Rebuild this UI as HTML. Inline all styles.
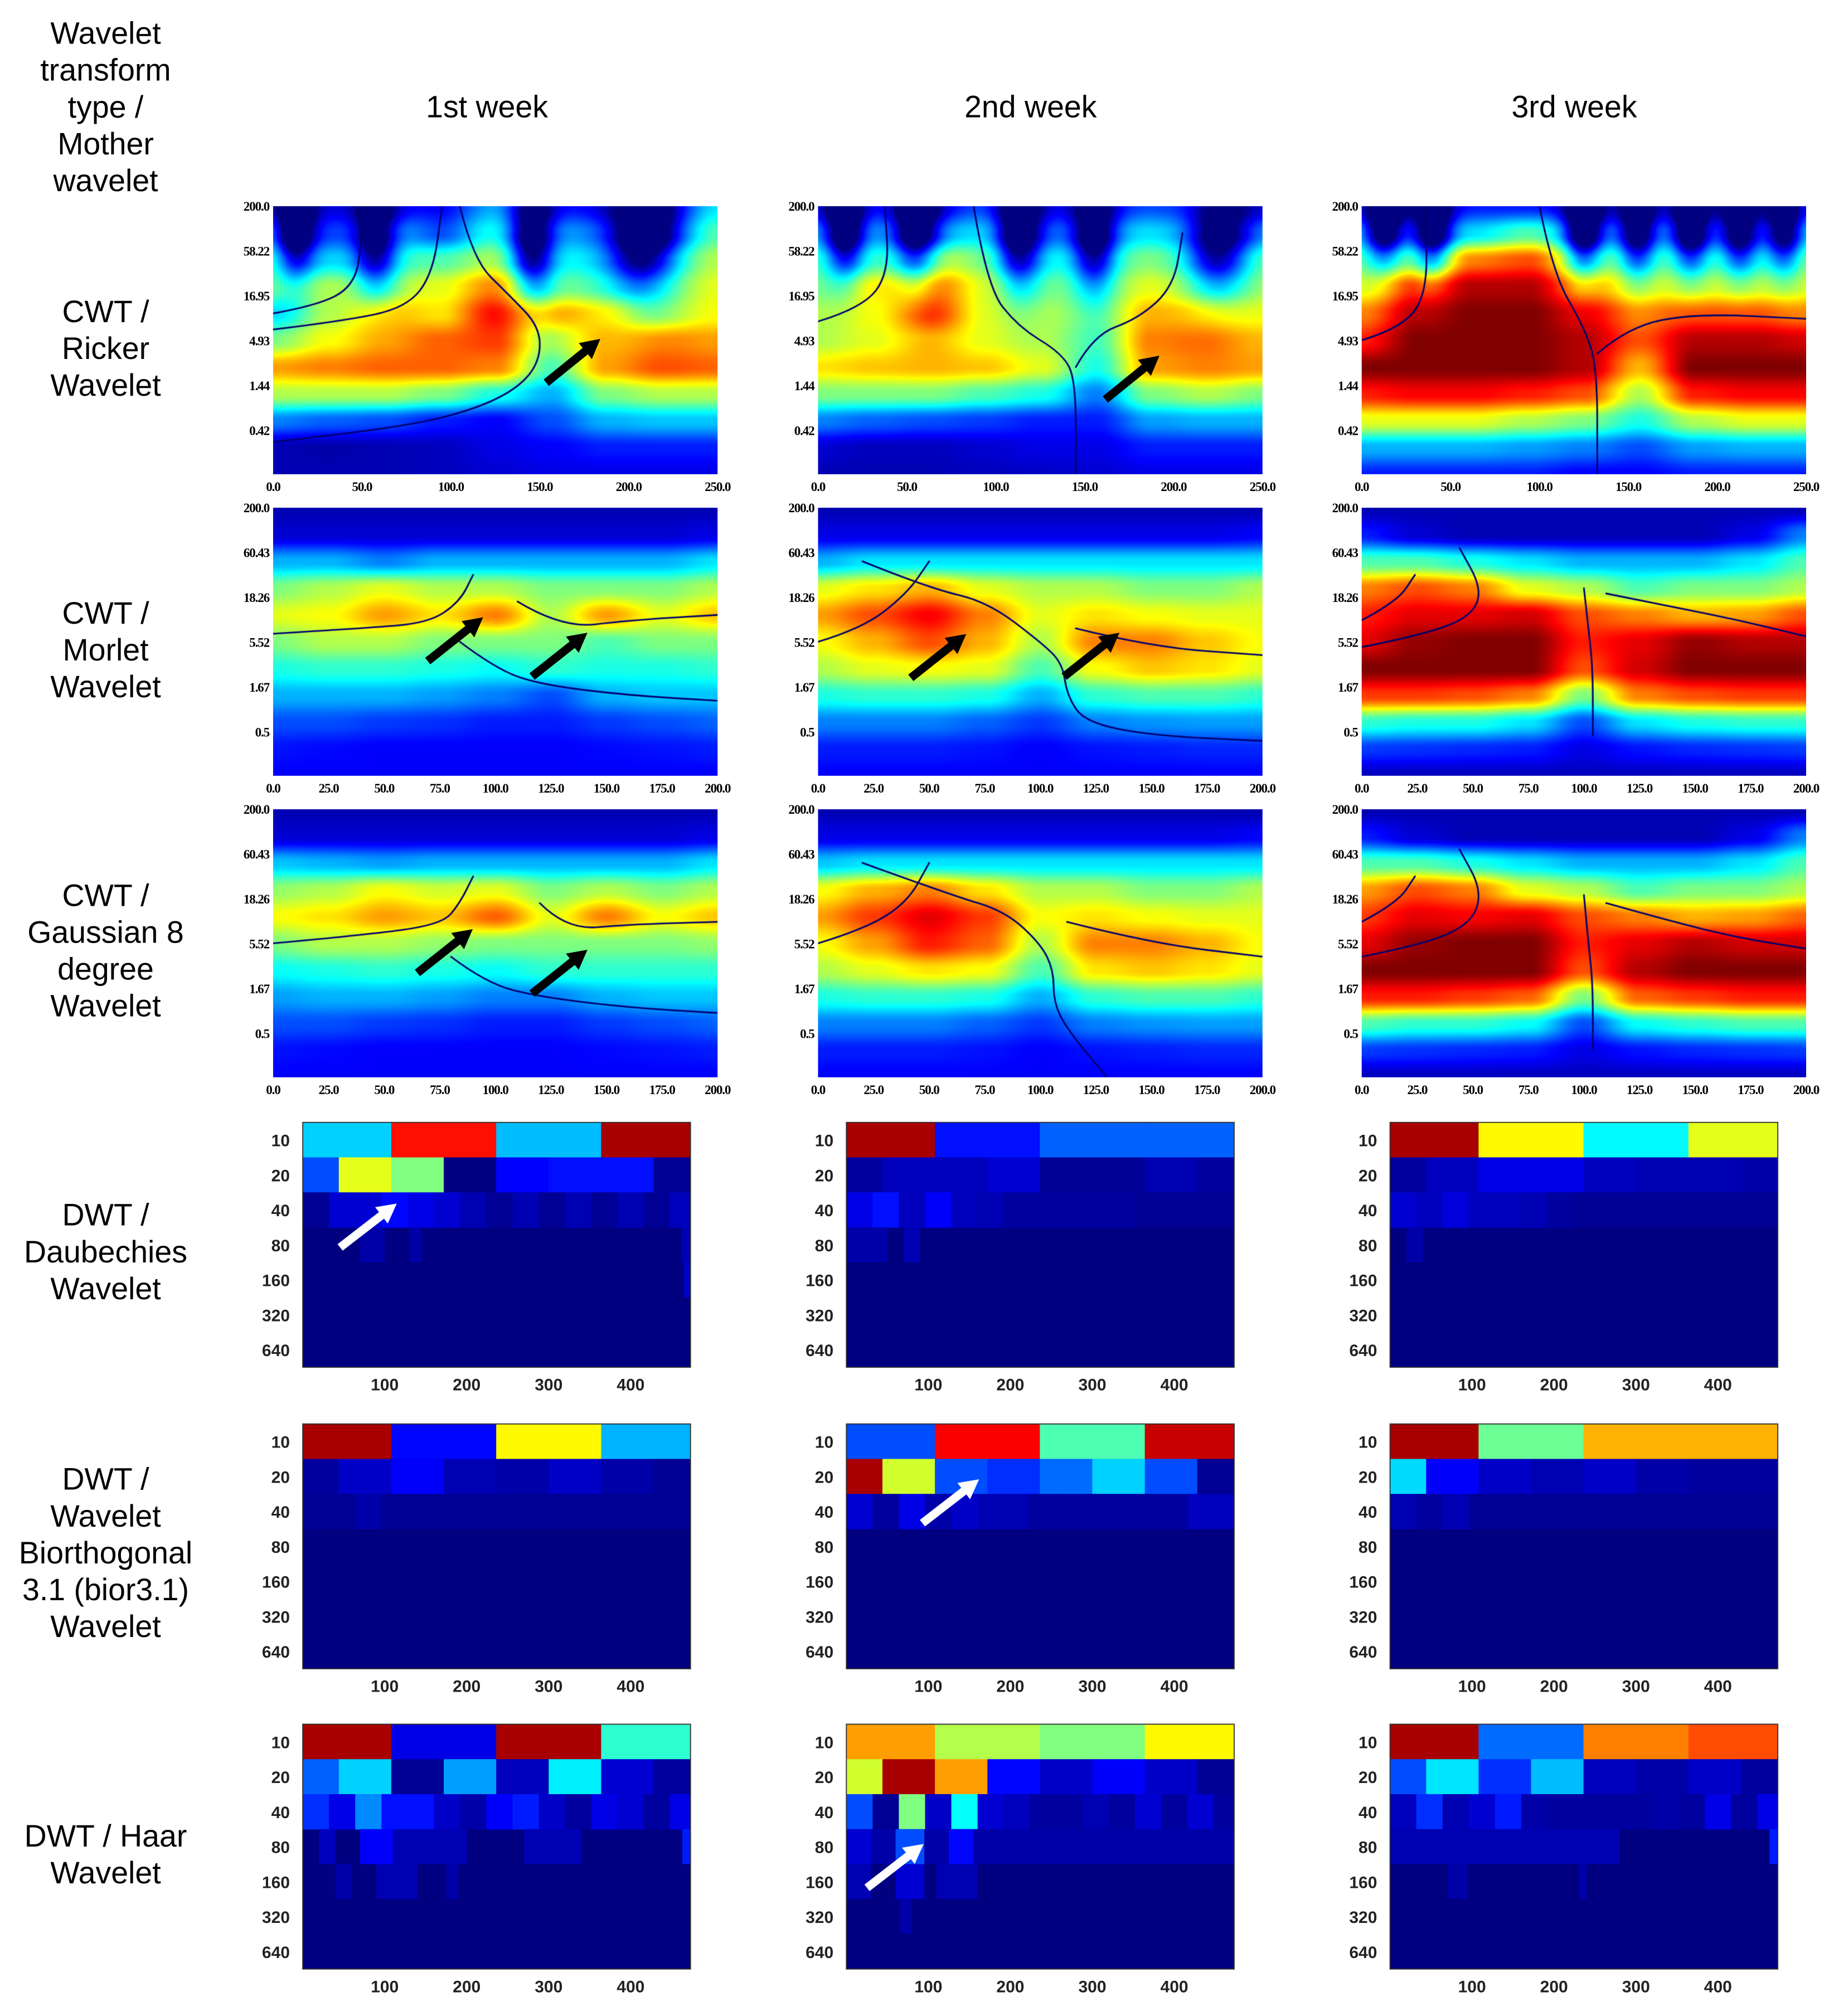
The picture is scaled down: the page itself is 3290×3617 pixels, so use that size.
<!DOCTYPE html>
<html><head><meta charset="utf-8">
<style>
html,body{margin:0;padding:0;background:#fff;}
body{width:3290px;height:3617px;overflow:hidden;position:relative;}
#root{position:absolute;left:0;top:0;width:1420px;height:1561px;transform:scale(2.311,2.312);transform-origin:0 0;}
canvas{position:absolute;}
svg{position:absolute;left:0;top:0;}
</style></head>
<body>
<div id="root">
<svg id="svg" width="1420" height="1561" viewBox="0 0 1420 1561"></svg>
</div>
<script>
// ---------- DWT data (values in jet colormap 0..1) ----------
const dwtXTicks=[100,200,300,400];
const dwtYTicks=[10,20,40,80,160,320,640];
const dwtXMax=473;
const rowSteps=[128,64,32];
const rowOffsets=[-20,-20,0];
const daubW1=[[0.33,0.86,0.31,0.96],[0.2,0.6,0.5,0.0,0.125,0.14,0.14,0.02],[0.02,0.08,0.08,0.13,0.1,0.08,0.05,0.02,0.05,0.02,0.05,0.02,0.05,0.02,0.06,0.06]];
const daubW1Sparse=[[3,70,100,0.04],[3,130,145,0.04],[3,462,473,0.05],[4,465,473,0.07]];
const daubW2=[[0.96,0.14,0.22,0.22],[0.03,0.06,0.06,0.08,0.02,0.02,0.05,0.03],[0.1,0.14,0.06,0.12,0.06,0.05,0.03,0.03,0.03,0.03,0.03,0.02,0.02,0.02,0.02,0.02]];
const daubW2Sparse=[[3,0,50,0.04],[3,70,90,0.05]];
const daubW3=[[0.96,0.63,0.37,0.6],[0.03,0.06,0.1,0.1,0.06,0.05,0.05,0.04],[0.08,0.06,0.09,0.06,0.06,0.05,0.03,0.02,0.02,0.02,0.02,0.02,0.02,0.02,0.02,0.02]];
const daubW3Sparse=[[3,20,40,0.04]];
const biorW1=[[0.96,0.13,0.63,0.3],[0.03,0.07,0.12,0.05,0.04,0.07,0.04,0.02],[0.02,0.02,0.04,0.02,0.02,0.02,0.02,0.02,0.02,0.02,0.02,0.02,0.02,0.02,0.02,0.02]];
const biorW1Sparse=[];
const biorW2=[[0.2,0.88,0.45,0.93],[0.96,0.58,0.2,0.17,0.23,0.33,0.2,0.02],[0.08,0.03,0.1,0.04,0.07,0.05,0.05,0.03,0.03,0.03,0.03,0.03,0.03,0.06,0.06,0.06]];
const biorW2Sparse=[];
const biorW3=[[0.96,0.48,0.7,0.7],[0.34,0.12,0.07,0.05,0.07,0.04,0.03,0.03],[0.05,0.03,0.05,0.02,0.02,0.02,0.02,0.02,0.02,0.02,0.02,0.02,0.02,0.02,0.02,0.02]];
const biorW3Sparse=[];
const haarW1=[[0.96,0.1,0.96,0.42],[0.22,0.33,0.02,0.28,0.06,0.36,0.08,0.03],[0.17,0.1,0.26,0.14,0.14,0.07,0.04,0.12,0.15,0.07,0.03,0.1,0.08,0.03,0.1,0.1]];
const haarW1Sparse=[[3,20,40,0.06],[3,70,110,0.12],[3,110,200,0.05],[3,270,340,0.05],[3,463,473,0.15],[4,40,60,0.04],[4,90,140,0.05],[4,175,190,0.04]];
const haarW2=[[0.72,0.55,0.5,0.63],[0.58,0.96,0.72,0.13,0.07,0.12,0.07,0.02],[0.2,0.02,0.5,0.07,0.38,0.08,0.06,0.03,0.03,0.05,0.03,0.08,0.03,0.08,0.03,0.06]];
const haarW2Sparse=[[3,0,473,0.04],[3,0,30,0.08],[3,60,95,0.2],[3,125,155,0.13],[4,0,30,0.05],[4,60,95,0.08],[4,110,160,0.05],[5,65,80,0.04]];
const haarW3=[[0.96,0.23,0.75,0.8],[0.2,0.35,0.17,0.31,0.06,0.04,0.07,0.03],[0.06,0.17,0.05,0.08,0.15,0.04,0.03,0.03,0.03,0.03,0.04,0.03,0.1,0.03,0.1,0.1]];
const haarW3Sparse=[[3,0,280,0.05],[3,463,473,0.15],[4,70,95,0.04],[4,230,240,0.04]];

// ---------- CWT data: coarse magnitude grids (11 rows top->bottom, 9 cols left->right) ----------
const rickerYTicks=["200.0","58.22","16.95","4.93","1.44","0.42"];
const morletYTicks=["200.0","60.43","18.26","5.52","1.67","0.5"];
const rickerXTicks=["0.0","50.0","100.0","150.0","200.0","250.0"];
const morletXTicks=["0.0","25.0","50.0","75.0","100.0","125.0","150.0","175.0","200.0"];
const rickerW1Grid=[
[0.12,0.1,0.15,0.12,0.3,0.15,0.12,0.1,0.35],
[0.3,0.2,0.35,0.2,0.4,0.3,0.25,0.2,0.45],
[0.45,0.35,0.45,0.45,0.55,0.4,0.35,0.4,0.55],
[0.5,0.55,0.55,0.6,0.75,0.5,0.45,0.5,0.6],
[0.35,0.55,0.7,0.65,0.87,0.72,0.65,0.55,0.62],
[0.5,0.62,0.72,0.78,0.82,0.55,0.7,0.75,0.72],
[0.72,0.75,0.78,0.78,0.75,0.45,0.72,0.8,0.78],
[0.55,0.55,0.55,0.5,0.4,0.3,0.5,0.55,0.55],
[0.25,0.22,0.2,0.15,0.12,0.2,0.3,0.32,0.32],
[0.05,0.04,0.05,0.06,0.1,0.12,0.15,0.15,0.15],
[0.05,0.05,0.05,0.06,0.08,0.1,0.1,0.1,0.1]];
const rickerW1Holes=[[0.05,0.1,0.03,0.12,-0.45],[0.23,0.14,0.035,0.13,-0.45],[0.58,0.15,0.035,0.14,-0.45],[0.83,0.14,0.05,0.14,-0.45]];
const rickerW1Lines=[[[0,0.4],[0.1,0.37],[0.18,0.3],[0.2,0.15],[0.19,0]],[[0,0.46],[0.15,0.43],[0.3,0.38],[0.36,0.25],[0.38,0]],[[0.42,0],[0.45,0.2],[0.53,0.33],[0.6,0.45],[0.6,0.58],[0.55,0.68],[0.45,0.76],[0.3,0.82],[0,0.88]]];
const rickerW2Grid=[
[0.12,0.15,0.1,0.2,0.12,0.15,0.2,0.25,0.12],
[0.3,0.3,0.3,0.35,0.25,0.3,0.35,0.35,0.3],
[0.45,0.45,0.6,0.5,0.4,0.45,0.5,0.45,0.5],
[0.5,0.65,0.8,0.6,0.5,0.5,0.6,0.55,0.55],
[0.55,0.62,0.85,0.6,0.55,0.5,0.7,0.7,0.62],
[0.55,0.6,0.7,0.6,0.55,0.45,0.75,0.78,0.7],
[0.65,0.68,0.7,0.68,0.6,0.4,0.72,0.75,0.72],
[0.5,0.5,0.5,0.45,0.4,0.25,0.5,0.55,0.5],
[0.25,0.22,0.2,0.18,0.15,0.15,0.28,0.3,0.3],
[0.08,0.06,0.06,0.08,0.1,0.1,0.15,0.15,0.15],
[0.05,0.05,0.05,0.06,0.07,0.08,0.1,0.1,0.1]];
const rickerW2Holes=[[0.06,0.1,0.03,0.12,-0.45],[0.22,0.12,0.035,0.13,-0.45],[0.45,0.12,0.035,0.14,-0.45],[0.62,0.14,0.035,0.13,-0.45],[0.9,0.14,0.05,0.14,-0.45]];
const rickerW2Lines=[[[0,0.43],[0.1,0.38],[0.16,0.25],[0.15,0]],[[0.35,0],[0.38,0.3],[0.45,0.45],[0.55,0.55],[0.58,0.65],[0.58,1]],[[0.58,0.6],[0.62,0.48],[0.72,0.42],[0.8,0.3],[0.82,0.1]]];
const rickerW3Grid=[
[0.15,0.1,0.15,0.15,0.1,0.15,0.12,0.15,0.2],
[0.35,0.3,0.35,0.45,0.3,0.35,0.3,0.35,0.4],
[0.5,0.55,0.75,0.8,0.55,0.5,0.5,0.5,0.55],
[0.6,0.85,0.95,0.95,0.75,0.6,0.6,0.6,0.6],
[0.75,0.95,1,1,0.9,0.75,0.8,0.8,0.75],
[0.85,1,1,1,0.95,0.8,0.95,0.95,0.92],
[1,1,1,1,0.95,0.7,1,1,1],
[0.85,0.88,0.88,0.85,0.8,0.55,0.85,0.88,0.88],
[0.6,0.6,0.6,0.55,0.5,0.4,0.55,0.6,0.6],
[0.3,0.3,0.3,0.28,0.25,0.2,0.28,0.3,0.3],
[0.15,0.15,0.15,0.15,0.12,0.12,0.15,0.15,0.15]];
const rickerW3Holes=[[0.05,0.08,0.03,0.1,-0.45],[0.16,0.1,0.03,0.11,-0.45],[0.5,0.1,0.03,0.11,-0.45],[0.62,0.1,0.03,0.11,-0.45],[0.74,0.1,0.03,0.11,-0.45],[0.85,0.1,0.03,0.11,-0.45],[0.95,0.1,0.03,0.11,-0.45]];
const rickerW3Lines=[[[0,0.5],[0.1,0.45],[0.15,0.3],[0.14,0]],[[0.4,0],[0.43,0.25],[0.5,0.45],[0.53,0.6],[0.53,1]],[[0.53,0.55],[0.6,0.45],[0.75,0.4],[1,0.42]]];
const morletW1Grid=[
[0.05,0.05,0.05,0.05,0.05,0.05,0.05,0.05,0.05],
[0.08,0.08,0.08,0.08,0.08,0.08,0.08,0.08,0.1],
[0.3,0.3,0.25,0.3,0.3,0.3,0.3,0.3,0.35],
[0.5,0.55,0.6,0.55,0.55,0.5,0.5,0.5,0.55],
[0.6,0.62,0.72,0.65,0.75,0.55,0.72,0.6,0.68],
[0.5,0.55,0.55,0.5,0.5,0.5,0.45,0.5,0.5],
[0.4,0.42,0.42,0.4,0.38,0.42,0.4,0.4,0.42],
[0.3,0.3,0.3,0.28,0.25,0.2,0.3,0.32,0.32],
[0.2,0.2,0.18,0.17,0.15,0.15,0.18,0.2,0.22],
[0.14,0.13,0.12,0.12,0.12,0.12,0.13,0.14,0.15],
[0.12,0.12,0.12,0.12,0.12,0.12,0.12,0.12,0.12]];
const morletW1Holes=[];
const morletW1Lines=[[[0,0.47],[0.2,0.45],[0.35,0.43],[0.42,0.35],[0.45,0.25]],[[0.42,0.5],[0.5,0.6],[0.6,0.66],[0.8,0.7],[1,0.72]],[[0.55,0.35],[0.65,0.45],[0.8,0.42],[1,0.4]]];
const morletW2Grid=[
[0.05,0.05,0.05,0.05,0.05,0.05,0.05,0.05,0.05],
[0.1,0.1,0.1,0.1,0.1,0.1,0.1,0.1,0.12],
[0.3,0.35,0.35,0.35,0.35,0.35,0.35,0.35,0.35],
[0.6,0.65,0.7,0.6,0.55,0.55,0.5,0.5,0.55],
[0.72,0.8,0.88,0.75,0.6,0.65,0.62,0.6,0.6],
[0.62,0.7,0.8,0.7,0.55,0.75,0.75,0.68,0.62],
[0.55,0.6,0.62,0.6,0.45,0.62,0.68,0.65,0.6],
[0.4,0.42,0.42,0.4,0.3,0.42,0.45,0.45,0.42],
[0.25,0.25,0.25,0.22,0.18,0.25,0.27,0.28,0.28],
[0.15,0.15,0.15,0.14,0.12,0.14,0.15,0.16,0.16],
[0.12,0.12,0.12,0.12,0.12,0.12,0.12,0.12,0.12]];
const morletW2Holes=[];
const morletW2Lines=[[[0.1,0.2],[0.25,0.3],[0.38,0.35],[0.5,0.5],[0.55,0.58],[0.56,0.7],[0.6,0.8],[0.75,0.85],[1,0.87]],[[0,0.5],[0.1,0.45],[0.2,0.32],[0.25,0.2]],[[0.58,0.45],[0.75,0.52],[1,0.55]]];
const morletW3Grid=[
[0.05,0.05,0.05,0.05,0.05,0.05,0.05,0.05,0.05],
[0.15,0.08,0.05,0.05,0.05,0.05,0.05,0.1,0.25],
[0.45,0.45,0.4,0.35,0.3,0.3,0.3,0.35,0.45],
[0.75,0.8,0.75,0.6,0.55,0.45,0.5,0.5,0.55],
[0.85,0.9,0.9,0.92,0.8,0.75,0.7,0.72,0.8],
[0.9,0.98,1,1,0.85,0.9,0.98,0.95,0.95],
[1,1,1,1,0.8,0.92,1,1,1],
[0.82,0.82,0.8,0.75,0.5,0.75,0.8,0.82,0.82],
[0.42,0.4,0.4,0.35,0.2,0.35,0.4,0.42,0.42],
[0.18,0.17,0.16,0.15,0.1,0.14,0.16,0.17,0.18],
[0.06,0.06,0.06,0.06,0.06,0.06,0.06,0.06,0.06]];
const morletW3Holes=[];
const morletW3Lines=[[[0.5,0.3],[0.51,0.45],[0.52,0.6],[0.52,0.85]],[[0,0.52],[0.15,0.47],[0.25,0.4],[0.27,0.3],[0.22,0.15]],[[0.55,0.32],[0.7,0.37],[0.85,0.42],[1,0.48]],[[0,0.42],[0.08,0.35],[0.12,0.25]]];
const gaussW1Grid=[
[0.05,0.05,0.05,0.05,0.05,0.05,0.05,0.05,0.05],
[0.08,0.08,0.08,0.08,0.08,0.08,0.08,0.08,0.1],
[0.32,0.3,0.28,0.3,0.3,0.3,0.3,0.3,0.35],
[0.52,0.55,0.62,0.58,0.6,0.5,0.55,0.5,0.55],
[0.62,0.65,0.72,0.68,0.78,0.6,0.75,0.62,0.68],
[0.5,0.55,0.55,0.52,0.5,0.5,0.5,0.5,0.52],
[0.38,0.4,0.42,0.4,0.38,0.42,0.42,0.42,0.42],
[0.28,0.3,0.3,0.28,0.25,0.25,0.3,0.32,0.32],
[0.2,0.2,0.18,0.17,0.15,0.15,0.18,0.2,0.22],
[0.14,0.13,0.12,0.12,0.12,0.12,0.13,0.14,0.15],
[0.12,0.12,0.12,0.12,0.12,0.12,0.12,0.12,0.12]];
const gaussW1Holes=[];
const gaussW1Lines=[[[0,0.5],[0.2,0.47],[0.38,0.43],[0.42,0.35],[0.45,0.25]],[[0.4,0.55],[0.48,0.65],[0.6,0.7],[0.8,0.74],[1,0.76]],[[0.6,0.35],[0.66,0.45],[0.8,0.43],[1,0.42]]];
const gaussW2Grid=[
[0.05,0.05,0.05,0.05,0.05,0.05,0.05,0.05,0.05],
[0.1,0.1,0.1,0.1,0.1,0.1,0.1,0.1,0.12],
[0.32,0.35,0.35,0.35,0.35,0.35,0.35,0.35,0.35],
[0.62,0.7,0.75,0.65,0.55,0.55,0.5,0.5,0.55],
[0.72,0.82,0.9,0.82,0.62,0.65,0.62,0.6,0.6],
[0.62,0.72,0.85,0.78,0.55,0.75,0.75,0.7,0.62],
[0.55,0.6,0.65,0.62,0.45,0.65,0.68,0.65,0.6],
[0.4,0.42,0.42,0.4,0.3,0.42,0.45,0.45,0.42],
[0.25,0.25,0.25,0.22,0.18,0.25,0.27,0.28,0.28],
[0.15,0.15,0.15,0.14,0.12,0.14,0.15,0.16,0.16],
[0.12,0.12,0.12,0.12,0.12,0.12,0.12,0.12,0.12]];
const gaussW2Holes=[];
const gaussW2Lines=[[[0.1,0.2],[0.3,0.32],[0.42,0.38],[0.5,0.5],[0.53,0.6],[0.53,0.72],[0.56,0.82],[0.65,1]],[[0,0.5],[0.1,0.45],[0.2,0.35],[0.25,0.2]],[[0.56,0.42],[0.75,0.5],[1,0.55]]];
const gaussW3Grid=[
[0.05,0.05,0.05,0.05,0.05,0.05,0.05,0.05,0.05],
[0.15,0.08,0.05,0.05,0.05,0.05,0.05,0.1,0.25],
[0.45,0.45,0.4,0.35,0.3,0.3,0.3,0.35,0.45],
[0.72,0.8,0.75,0.6,0.55,0.45,0.5,0.5,0.55],
[0.82,0.9,0.88,0.9,0.8,0.75,0.7,0.72,0.78],
[0.9,0.98,1,1,0.85,0.9,0.95,0.92,0.92],
[1,1,1,1,0.8,0.95,1,1,1],
[0.85,0.85,0.82,0.78,0.5,0.78,0.82,0.85,0.85],
[0.45,0.42,0.42,0.38,0.2,0.38,0.42,0.45,0.45],
[0.18,0.17,0.16,0.15,0.1,0.14,0.16,0.17,0.18],
[0.06,0.06,0.06,0.06,0.06,0.06,0.06,0.06,0.06]];
const gaussW3Holes=[];
const gaussW3Lines=[[[0.5,0.32],[0.51,0.5],[0.52,0.65],[0.52,0.9]],[[0,0.55],[0.15,0.5],[0.25,0.42],[0.27,0.3],[0.22,0.15]],[[0.55,0.35],[0.7,0.42],[0.85,0.48],[1,0.52]],[[0,0.42],[0.08,0.35],[0.12,0.25]]];

// ---------- helpers ----------
const NS="http://www.w3.org/2000/svg";
const svg=document.getElementById('svg');
const root=document.getElementById('root');
function jet(v){v=Math.max(0,Math.min(1,v));
  const c=x=>Math.max(0,Math.min(1,x));
  const r=c(1.5-Math.abs(4*v-3)),g=c(1.5-Math.abs(4*v-2)),b=c(1.5-Math.abs(4*v-1));
  return [Math.round(r*255),Math.round(g*255),Math.round(b*255)];}
function jetStr(v){const c=jet(v);return 'rgb('+c[0]+','+c[1]+','+c[2]+')';}
function txt(x,y,s,size,anchor,opts){const t=document.createElementNS(NS,'text');
  t.setAttribute('x',x);t.setAttribute('y',y);t.setAttribute('font-size',size);
  t.setAttribute('text-anchor',anchor||'middle');
  t.setAttribute('font-family',(opts&&opts.ff)||'"Liberation Sans", sans-serif');
  if(opts&&opts.fw)t.setAttribute('font-weight',opts.fw);
  if(opts&&opts.fill)t.setAttribute('fill',opts.fill);
  if(opts&&opts.ls)t.setAttribute('letter-spacing',opts.ls);
  t.textContent=s;svg.appendChild(t);return t;}
function rect(x,y,w,h,fill,g){const r=document.createElementNS(NS,'rect');
  r.setAttribute('x',x);r.setAttribute('y',y);r.setAttribute('width',w);r.setAttribute('height',h);r.setAttribute('fill',fill);
  (g||svg).appendChild(r);return r;}
function arrow(x1,y1,x2,y2,color,name){const g=document.createElementNS(NS,'g');
  
  
  const dx=x2-x1,dy=y2-y1,L=Math.hypot(dx,dy),ux=dx/L,uy=dy/L,px=-uy,py=ux;
  const hl=15,hw=8,sw=3.2;
  const bx=x2-ux*hl,by=y2-uy*hl;
  const p=document.createElementNS(NS,'polygon');
  const pts=[[x1+px*sw,y1+py*sw],[bx+px*sw,by+py*sw],[bx+px*hw,by+py*hw],[x2,y2],[bx-px*hw,by-py*hw],[bx-px*sw,by-py*sw],[x1-px*sw,y1-py*sw]];
  p.setAttribute('points',pts.map(q=>q[0].toFixed(1)+','+q[1].toFixed(1)).join(' '));
  p.setAttribute('fill',color);g.appendChild(p);svg.appendChild(g);}

// ---------- header & row labels ----------
const hdr=["Wavelet","transform","type /","Mother","wavelet"];
hdr.forEach((s,i)=>{const t=txt(82,34+i*28.6,s,24);});
const colHeads=[["1st week",378],["2nd week",800],["3rd week",1222]];
colHeads.forEach(c=>{const t=txt(c[1],91,c[0],24);});
const rowLabels=[[["CWT /","Ricker","Wavelet"],250],[["CWT /","Morlet","Wavelet"],484],[["CWT /","Gaussian 8","degree","Wavelet"],703],[["DWT /","Daubechies","Wavelet"],951],[["DWT /","Wavelet","Biorthogonal","3.1 (bior3.1)","Wavelet"],1156],[["DWT / Haar","Wavelet"],1433]];
rowLabels.forEach(r=>r[0].forEach((s,i)=>{const t=txt(82,r[1]+i*28.6,s,24);}));

// ---------- CWT panels ----------
const cwtCols=[212,635,1057], cwtRows=[160,394,628], CW=345, CH=208;
const cwtSets=[[[rickerW1Grid,rickerW1Holes,rickerW1Lines],[rickerW2Grid,rickerW2Holes,rickerW2Lines],[rickerW3Grid,rickerW3Holes,rickerW3Lines]],
  [[morletW1Grid,morletW1Holes,morletW1Lines],[morletW2Grid,morletW2Holes,morletW2Lines],[morletW3Grid,morletW3Holes,morletW3Lines]],
  [[gaussW1Grid,gaussW1Holes,gaussW1Lines],[gaussW2Grid,gaussW2Holes,gaussW2Lines],[gaussW3Grid,gaussW3Holes,gaussW3Lines]]];
function sm(t){return t*t*(3-2*t);}
function sample(grid,x,y){const R=grid.length-1,C=grid[0].length-1;
  const fy=y*R,fx=x*C;let r0=Math.min(R-1,Math.floor(fy)),c0=Math.min(C-1,Math.floor(fx));
  const ty=sm(fy-r0),tx=sm(fx-c0);
  const a=grid[r0][c0],b=grid[r0][c0+1],c=grid[r0+1][c0],d=grid[r0+1][c0+1];
  return (a*(1-tx)+b*tx)*(1-ty)+(c*(1-tx)+d*tx)*ty;}
function drawCWT(px,py,grid,holes,lines,yt,xt,name){
  const sc=2, w=CW*sc, h=CH*sc;
  const cv=document.createElement('canvas');cv.width=w;cv.height=h;
  cv.style.left=px+'px';cv.style.top=py+'px';cv.style.width=CW+'px';cv.style.height=CH+'px';
  
  
  root.insertBefore(cv,svg);
  const ctx=cv.getContext('2d');const im=ctx.createImageData(w,h);const d=im.data;
  for(let j=0;j<h;j++){const y=j/h;for(let i=0;i<w;i++){const x=i/w;let v=sample(grid,x,y);
    for(const b of holes){const ex=(x-b[0])/b[2],ey=(y-b[1])/b[3];v+=b[4]*Math.exp(-0.5*(ex*ex+ey*ey));}
    const c=jet(v);const k=(j*w+i)*4;d[k]=c[0];d[k+1]=c[1];d[k+2]=c[2];d[k+3]=255;}}
  ctx.putImageData(im,0,0);
  ctx.save();ctx.filter='blur(0.6px)';ctx.strokeStyle='rgb(0,0,110)';ctx.lineWidth=2.6;ctx.lineJoin='round';ctx.lineCap='round';
  lines.forEach(L=>{ctx.beginPath();L.forEach((p,k)=>{const X=p[0]*w,Y=p[1]*h;
      if(k===0)ctx.moveTo(X,Y);else if(k<L.length-1){const q=L[k+1];ctx.quadraticCurveTo(X,Y,(X+q[0]*w)/2,(Y+q[1]*h)/2);}else ctx.lineTo(X,Y);});ctx.stroke();});
  ctx.restore();
  const ff='"Liberation Serif", serif';
  yt.forEach((s,i)=>{const t=txt(px-3,py+3.5+i*34.8,s,10,'end',{ff:ff,fw:'bold',ls:'-0.5'});});
  xt.forEach((s,i)=>{const t=txt(px+i*CW/(xt.length-1),py+CH+13,s,10,'middle',{ff:ff,fw:'bold',ls:'-0.5'});});
}
cwtSets.forEach((set,r)=>set.forEach((p,c)=>{
  drawCWT(cwtCols[c],cwtRows[r],p[0],p[1],p[2],r===0?rickerYTicks:morletYTicks,r===0?rickerXTicks:morletXTicks,'cwt-scalogram-r'+(r+1)+'-week'+(c+1));
}));

// ---------- DWT panels ----------
const dwtCols=[235,657,1079], dwtRows=[871,1105,1338], DW=301, DH=190;
const dwtSets=[[[daubW1,daubW1Sparse],[daubW2,daubW2Sparse],[daubW3,daubW3Sparse]],
               [[biorW1,biorW1Sparse],[biorW2,biorW2Sparse],[biorW3,biorW3Sparse]],
               [[haarW1,haarW1Sparse],[haarW2,haarW2Sparse],[haarW3,haarW3Sparse]]];
function drawDWT(px,py,rows,sparse,name){
  const g=document.createElementNS(NS,'g');
  
  
  svg.appendChild(g);
  const xs=u=>px+Math.max(0,Math.min(dwtXMax,u))/dwtXMax*DW;
  const rh=DH/dwtYTicks.length;
  rect(px,py,DW,DH,jetStr(0),g);
  rows.forEach((vals,ri)=>{const step=rowSteps[ri],off=rowOffsets[ri];
    vals.forEach((v,ci)=>{const a=off+ci*step,b=a+step;const x0=xs(a),x1=xs(b);
      if(x1>x0){const rr=rect(x0,py+ri*rh,x1-x0+0.3,rh+0.3,jetStr(v),g);}});});
  sparse.forEach(s=>{const x0=xs(s[1]),x1=xs(s[2]);const rr=rect(x0,py+s[0]*rh,x1-x0,rh,jetStr(s[3]),g);});
  const fr=rect(px,py,DW,DH,'none',g);fr.setAttribute('stroke','#333');fr.setAttribute('stroke-width','0.8');
  dwtYTicks.forEach((s,i)=>{const t=txt(px-10,py+rh*(i+0.5)+5,String(s),13,'end',{fw:'bold',fill:'#222'});});
  dwtXTicks.forEach(s=>{const t=txt(xs(s),py+DH+18,String(s),13,'middle',{fw:'bold',fill:'#222'});});
}
const dwtNames=['daubechies','bior31','haar'];
dwtSets.forEach((set,r)=>set.forEach((p,c)=>drawDWT(dwtCols[c],dwtRows[r],p[0],p[1],'dwt-'+dwtNames[r]+'-week'+(c+1))));

// ---------- arrows ----------
arrow(424,297,466,263,'#000','arrow-ricker-w1');
arrow(858,310,900,276,'#000','arrow-ricker-w2');
arrow(332,513,375,479,'#000','arrow-morlet-w1-a');
arrow(413,525,456,491,'#000','arrow-morlet-w1-b');
arrow(707,526,750,492,'#000','arrow-morlet-w2-a');
arrow(826,525,869,491,'#000','arrow-morlet-w2-b');
arrow(324,755,367,721,'#000','arrow-gauss-w1-a');
arrow(413,771,456,737,'#000','arrow-gauss-w1-b');
arrow(264,968,308,934,'#fff','arrow-daub-w1');
arrow(716,1182,760,1148,'#fff','arrow-bior-w2');
arrow(673,1465,717,1431,'#fff','arrow-haar-w2');
</script>
</body></html>
